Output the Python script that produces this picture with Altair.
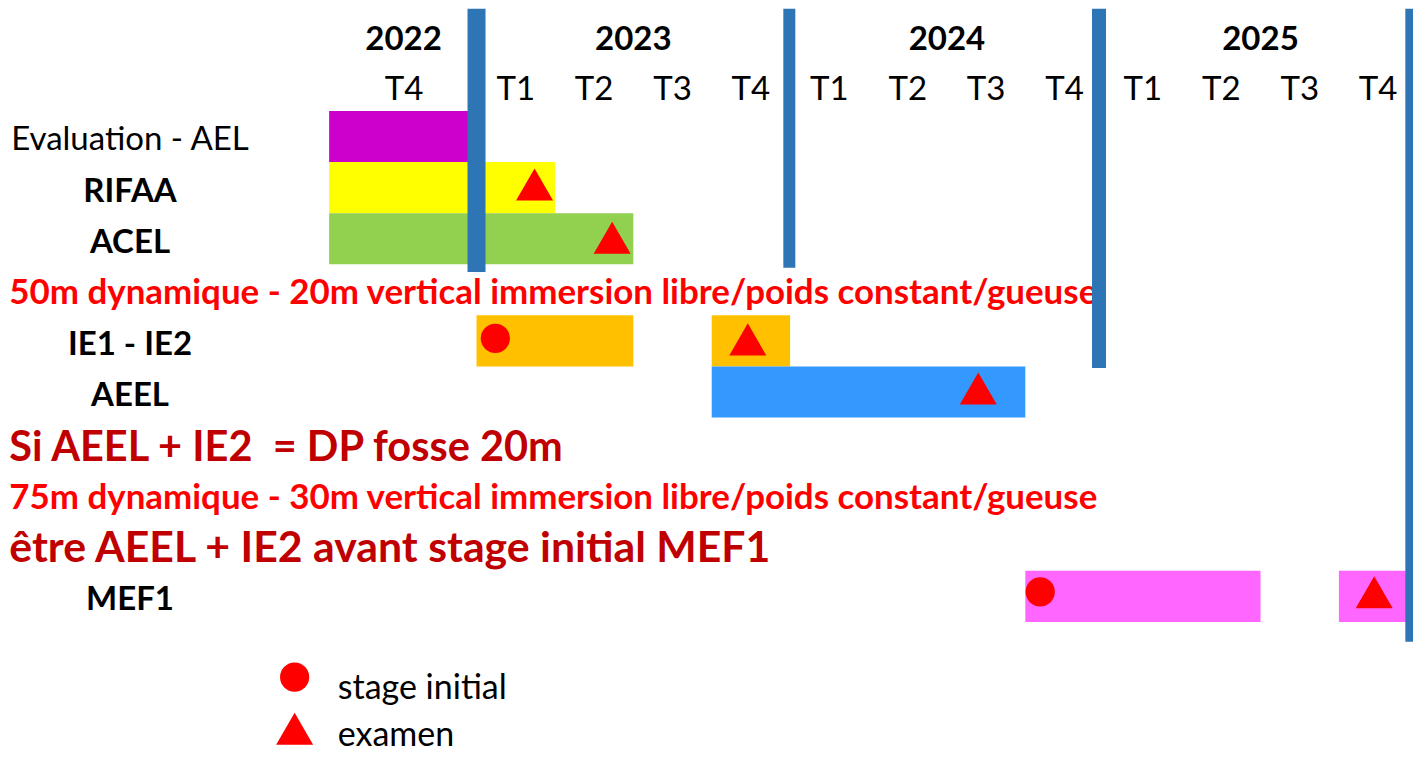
import altair as alt
import pandas as pd

FONT = "Lato"

# ---- data (x in quarters from 2023-T1, y in rows) ----
years = ["2022", "2023", "2024", "2025"]
year_pos = [-0.93, 2.0, 6.0, 10.0]

quarters = ["T4", "T1", "T2", "T3", "T4", "T1", "T2", "T3", "T4", "T1", "T2", "T3", "T4"]
quarter_pos = [-0.925, 0.5, 1.5, 2.5, 3.5, 4.5, 5.5, 6.5, 7.5, 8.5, 9.5, 10.5, 11.5]

task_names = ["Evaluation - AEL", "RIFAA", "ACEL", "IE1 - IE2", "AEEL", "MEF1"]
task_rows = [0, 1, 2, 4, 5, 9]

bar_task = ["Evaluation - AEL", "RIFAA", "ACEL", "IE1 - IE2", "IE1 - IE2", "AEEL", "MEF1", "MEF1"]
bar_start = [-1.88, -1.88, -1.88, 0.0, 3.0, 3.0, 7.0, 11.0]
bar_end = [0.0, 1.0, 2.0, 2.0, 4.0, 7.0, 10.0, 12.0]

task_colors = {
    "Evaluation - AEL": "#CC00CC",
    "RIFAA": "#FFFF00",
    "ACEL": "#92D050",
    "IE1 - IE2": "#FFC000",
    "AEEL": "#3399FF",
    "MEF1": "#FF66FF",
}

marker_kind = ["examen", "examen", "stage initial", "examen", "examen", "stage initial", "examen"]
marker_pos = [0.74, 1.73, 0.24, 3.46, 6.40, 7.19, 11.45]
marker_row = [0.94, 1.98, 3.95, 3.97, 4.93, 8.91, 8.92]

divider_pos = [0.0, 3.99, 7.94, 11.93]
divider_top = [-2.5, -2.5, -2.5, -2.5]
divider_bottom = [2.65, 2.57, 4.53, 9.89]

notes = [
    "50m dynamique - 20m vertical immersion libre/poids constant/gueuse",
    "Si AEEL + IE2 \u00a0= DP fosse 20m",
    "75m dynamique - 30m vertical immersion libre/poids constant/gueuse",
    "être AEEL + IE2 avant stage initial MEF1",
]
note_rows = [3, 6, 7, 8]
note_pos = -5.96

legend_labels = ["stage initial", "examen"]
legend_marker_pos = [-2.32, -2.32]
legend_marker_row = [10.58, 11.59]
legend_text_pos = -1.77
legend_text_rows = [11.0, 11.92]

# ---- scales ----
W, H = 1405, 745
xs = alt.Scale(domain=[-5.976, 11.945], nice=False, zero=False)
ys = alt.Scale(domain=[-2.515, 12.065], nice=False, zero=False, reverse=True)


def X(field):
    return alt.X(field, type="quantitative", scale=xs, axis=None)


def Y(field):
    return alt.Y(field, type="quantitative", scale=ys, axis=None)


row_of = dict(zip(task_names, task_rows))

bars_df = pd.DataFrame({
    "task": bar_task,
    "x0": bar_start,
    "x1": bar_end,
})
bars_df["y0"] = [row_of[t] - 0.5 for t in bar_task]
bars_df["y1"] = [row_of[t] + 0.5 for t in bar_task]
bars_df["color"] = [task_colors[t] for t in bar_task]

bars = alt.Chart(bars_df).mark_rect().encode(
    x=X("x0"), x2="x1", y=Y("y0"), y2="y1",
    color=alt.Color("color:N", scale=None),
)

div_df = pd.DataFrame({"x": divider_pos, "top": divider_top, "bottom": divider_bottom})
div_widths = [18, 12, 14, 13]
dividers = [
    alt.Chart(div_df.iloc[[i]]).mark_rule(color="#2E75B6", strokeWidth=w).encode(
        x=X("x"), y=Y("top"), y2="bottom"
    )
    for i, w in enumerate(div_widths)
]

mk_df = pd.DataFrame({"kind": marker_kind, "x": marker_pos, "y": marker_row})
lg_df = pd.DataFrame({"kind": legend_labels, "x": legend_marker_pos, "y": legend_marker_row})


def marker_layer(df):
    circ = alt.Chart(df[df.kind == "stage initial"]).mark_point(
        shape="circle", filled=True, size=855, color="#FF0000", opacity=1
    ).encode(x=X("x"), y=Y("y"))
    tri = alt.Chart(df[df.kind == "examen"]).mark_point(
        shape="triangle-up", filled=True, size=1369, color="#FF0000", opacity=1
    ).encode(x=X("x"), y=Y("y"))
    return [circ, tri]


# header text
year_df = pd.DataFrame({"t": years, "x": year_pos, "y": [-2] * len(years)})
year_txt = alt.Chart(year_df).mark_text(
    font=FONT, fontSize=33, fontWeight="bold", color="black", align="center",
    baseline="alphabetic", dy=15.7
).encode(x=X("x"), y=Y("y"), text="t:N")

q_df = pd.DataFrame({"t": quarters, "x": quarter_pos, "y": [-1] * len(quarters)})
q_txt = alt.Chart(q_df).mark_text(
    font=FONT, fontSize=33, color="black", align="center", baseline="alphabetic", dy=14.6
).encode(x=X("x"), y=Y("y"), text="t:N")

lab_df = pd.DataFrame({"t": task_names, "x": [-4.42] * len(task_names), "y": task_rows})
lab_plain = alt.Chart(lab_df.iloc[[0]]).mark_text(
    font=FONT, fontSize=33, color="black", align="center", baseline="alphabetic", dy=13.6
).encode(x=X("x"), y=Y("y"), text="t:N")
lab_bold = alt.Chart(lab_df.iloc[1:]).mark_text(
    font=FONT, fontSize=33, fontWeight="bold", color="black", align="center",
    baseline="alphabetic", dy=14
).encode(x=X("x"), y=Y("y"), text="t:N")

note_df = pd.DataFrame({"t": notes, "x": [note_pos] * len(notes), "y": note_rows})
note_styles = [("#FF0000", 34.9, 14.5), ("#C00000", 41.5, 17.6),
               ("#FF0000", 34.9, 14.8), ("#C00000", 42.8, 16.4)]
note_layers = [
    alt.Chart(note_df.iloc[[i]]).mark_text(
        font=FONT, fontSize=fs, fontWeight="bold", color=c, align="left",
        baseline="alphabetic", dy=dy
    ).encode(x=X("x"), y=Y("y"), text="t:N")
    for i, (c, fs, dy) in enumerate(note_styles)
]

leg_txt_df = pd.DataFrame({"t": legend_labels, "x": [legend_text_pos] * 2, "y": legend_text_rows})
leg_txt = alt.Chart(leg_txt_df).mark_text(
    font=FONT, fontSize=34, color="black", align="left", baseline="alphabetic", dy=0
).encode(x=X("x"), y=Y("y"), text="t:N")

layers = [bars] + note_layers + dividers + marker_layer(mk_df) + marker_layer(lg_df) + [
    year_txt, q_txt, lab_plain, lab_bold, leg_txt]

chart = alt.layer(*layers).properties(
    width=W, height=H, padding=0, autosize=alt.AutoSizeParams(type="none"),
    background="white",
).configure_view(stroke=None)

chart.save("out.html", embed_options={"renderer": "svg", "actions": False})
